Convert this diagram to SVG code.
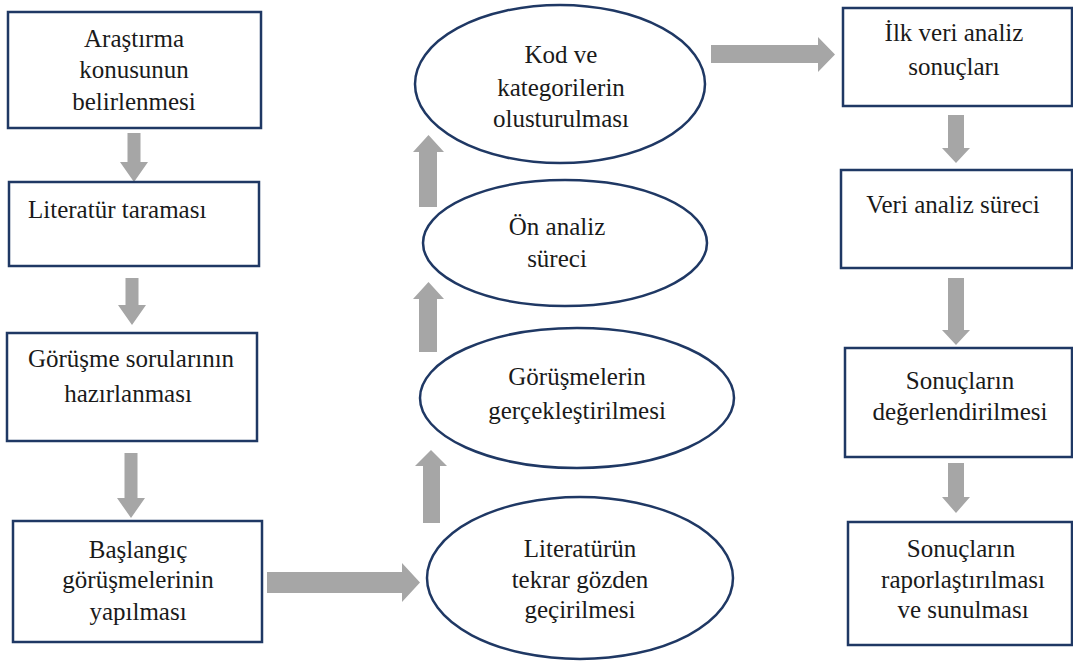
<svg xmlns="http://www.w3.org/2000/svg" width="1073" height="666" viewBox="0 0 1073 666">
  <style>
    .box { fill: #ffffff; stroke: #1f3864; stroke-width: 2.5; }
    .oval { fill: #ffffff; stroke: #1f3864; stroke-width: 2.5; }
    .arrow { fill: #a6a6a6; stroke: none; }
    .lbl { font-family: "Liberation Serif", "Times New Roman", serif; font-size: 25px; fill: #1a1a1a; text-anchor: middle; }
    .lbl-start { text-anchor: start; }
  </style>
  <rect width="1073" height="666" fill="#ffffff"/>

  <!-- connectors: block arrows -->
  <g id="connectors">
    <!-- left column, downward -->
    <polygon class="arrow" points="127.5,133 140.5,133 140.5,162 148,162 134,182 120,162 127.5,162"/>
    <polygon class="arrow" points="125.5,278 138.5,278 138.5,305 146,305 132,325 118,305 125.5,305"/>
    <polygon class="arrow" points="124.5,453 137.5,453 137.5,498 145,498 131,518 117,498 124.5,498"/>
    <!-- bottom, to the right -->
    <polygon class="arrow" points="267,572 402,572 402,563 420,582.5 402,602 402,593 267,593"/>
    <!-- middle column, upward -->
    <polygon class="arrow" points="419,207 437,207 437,152 444,152 428.5,135 413,152 419,152"/>
    <polygon class="arrow" points="419,352 437,352 437,299 444,299 428.5,282 413,299 419,299"/>
    <polygon class="arrow" points="423,523 440,523 440,466 447,466 431,450 415,466 423,466"/>
    <!-- top, to the right -->
    <polygon class="arrow" points="711,45 818,45 818,37 835,54.5 818,72 818,63 711,63"/>
    <!-- right column, downward -->
    <polygon class="arrow" points="948,115 964,115 964,148 970,148 956,163 942,148 948,148"/>
    <polygon class="arrow" points="948,278 964,278 964,330 970,330 956,345 942,330 948,330"/>
    <polygon class="arrow" points="948,463 964,463 964,497 970,497 956,513 942,497 948,497"/>
  </g>

  <!-- left column -->
  <g id="arastirma-konusu">
    <rect class="box" x="8" y="12" width="253" height="116"/>
    <text class="lbl" x="134" y="47">Araştırma</text>
    <text class="lbl" x="134" y="78">konusunun</text>
    <text class="lbl" x="134" y="110">belirlenmesi</text>
  </g>
  <g id="literatur-taramasi">
    <rect class="box" x="9" y="182" width="250" height="84"/>
    <text class="lbl lbl-start" x="28" y="218">Literatür taraması</text>
  </g>
  <g id="gorusme-sorulari">
    <rect class="box" x="7" y="333" width="250" height="108"/>
    <text class="lbl" x="131" y="367">Görüşme sorularının</text>
    <text class="lbl" x="128" y="402">hazırlanması</text>
  </g>
  <g id="baslangic-gorusmeleri">
    <rect class="box" x="13" y="521" width="249" height="121"/>
    <text class="lbl" x="138" y="558">Başlangıç</text>
    <text class="lbl" x="138" y="588">görüşmelerinin</text>
    <text class="lbl" x="138" y="620">yapılması</text>
  </g>

  <!-- middle column -->
  <g id="kod-kategoriler">
    <ellipse class="oval" cx="560" cy="84" rx="145" ry="79"/>
    <text class="lbl" x="561" y="63">Kod ve</text>
    <text class="lbl" x="561" y="96">kategorilerin</text>
    <text class="lbl" x="561" y="127">olusturulması</text>
  </g>
  <g id="on-analiz">
    <ellipse class="oval" cx="565" cy="243" rx="142" ry="63"/>
    <text class="lbl" x="557" y="235">Ön analiz</text>
    <text class="lbl" x="557" y="267">süreci</text>
  </g>
  <g id="gorusmelerin-gerceklestirilmesi">
    <ellipse class="oval" cx="577" cy="398" rx="157" ry="70"/>
    <text class="lbl" x="577" y="385">Görüşmelerin</text>
    <text class="lbl" x="577" y="419">gerçekleştirilmesi</text>
  </g>
  <g id="literaturun-tekrar">
    <ellipse class="oval" cx="580" cy="578" rx="153" ry="81"/>
    <text class="lbl" x="580" y="557">Literatürün</text>
    <text class="lbl" x="580" y="588">tekrar gözden</text>
    <text class="lbl" x="580" y="618">geçirilmesi</text>
  </g>

  <!-- right column -->
  <g id="ilk-veri-analiz">
    <rect class="box" x="843" y="8" width="229" height="98"/>
    <text class="lbl" x="954" y="41">İlk veri analiz</text>
    <text class="lbl" x="954" y="75">sonuçları</text>
  </g>
  <g id="veri-analiz-sureci">
    <rect class="box" x="841" y="170" width="231" height="98"/>
    <text class="lbl" x="953" y="213">Veri analiz süreci</text>
  </g>
  <g id="sonuclarin-degerlendirilmesi">
    <rect class="box" x="845" y="348" width="227" height="109"/>
    <text class="lbl" x="960" y="389">Sonuçların</text>
    <text class="lbl" x="960" y="420">değerlendirilmesi</text>
  </g>
  <g id="sonuclarin-raporlastirilmasi">
    <rect class="box" x="848" y="522" width="224" height="123"/>
    <text class="lbl" x="961" y="557">Sonuçların</text>
    <text class="lbl" x="963" y="588">raporlaştırılması</text>
    <text class="lbl" x="963" y="618">ve sunulması</text>
  </g>
</svg>
